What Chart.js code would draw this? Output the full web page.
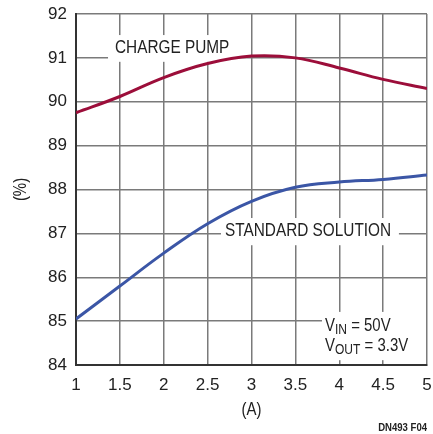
<!DOCTYPE html>
<html>
<head>
<meta charset="utf-8">
<script src="https://cdn.jsdelivr.net/npm/chart.js@4.4.0/dist/chart.umd.min.js"></script>
<style>
  html, body { margin: 0; padding: 0; background: #fff; }
  #wrap { width: 433px; height: 434px; }
</style>
</head>
<body>
<div id="wrap"><canvas id="chart"></canvas></div>
<script>
// load current (A)
const current = [1, 1.5, 2, 2.5, 3, 3.5, 4, 4.5, 5];
// efficiency (%)
const chargePump = [89.75, 90.12, 90.55, 90.87, 91.04, 91.0, 90.77, 90.51, 90.3];
const standard = [85.05, 85.8, 86.55, 87.22, 87.73, 88.05, 88.17, 88.23, 88.33];
const yTicks = [84, 85, 86, 87, 88, 89, 90, 91, 92];
const xTicks = [1, 1.5, 2, 2.5, 3, 3.5, 4, 4.5, 5];

const FONT = "'Liberation Sans', Arial, sans-serif";
const TXT = '#222';
const SQUEEZE = 0.83; // reference uses a condensed face

function pts(ys) {
    return current.map((x, i) => ({ x: x, y: ys[i] }));
}

// draw condensed text, returns drawn width
function condText(ctx, text, x, y, size, weight, align) {
    ctx.save();
    ctx.font = (weight || '') + ' ' + size + 'px ' + FONT;
    ctx.textBaseline = 'middle';
    ctx.textAlign = align || 'left';
    ctx.translate(x, y);
    ctx.scale(SQUEEZE, 1);
    ctx.fillText(text, 0, 0);
    const w = ctx.measureText(text).width * SQUEEZE;
    ctx.restore();
    return w;
}

// labels sitting on grid lines, with white boxes behind them
const labelsPlugin = {
    id: 'labels',
    beforeDatasetsDraw(chart) {
        const ctx = chart.ctx;
        const xs = chart.scales.x, ys = chart.scales.y;
        const box = (x1, x2, y1, y2) => {
            const l = xs.getPixelForValue(x1), r = Math.min(xs.getPixelForValue(x2), chart.chartArea.right - 1);
            const t = ys.getPixelForValue(y1), b = ys.getPixelForValue(y2);
            ctx.fillRect(l, t, r - l, b - t);
        };
        ctx.save();
        ctx.fillStyle = '#fff';
        box(1.365, 2.835, 91.52, 90.91);
        box(2.652, 4.68, 87.35, 86.73);
        box(3.803, 5, 85.21, 84.11);
        ctx.fillStyle = TXT;

        condText(ctx, 'CHARGE PUMP', xs.getPixelForValue(1.444), ys.getPixelForValue(91.23), 18.5);
        condText(ctx, 'STANDARD SOLUTION', xs.getPixelForValue(2.698), ys.getPixelForValue(87.05), 18.5);

        const x0 = xs.getPixelForValue(3.838);
        const lines = [['IN', ' = 50V', 84.88], ['OUT', ' = 3.3V', 84.44]];
        lines.forEach(l => {
            const y0 = ys.getPixelForValue(l[2]);
            let x = x0;
            x += condText(ctx, 'V', x, y0, 18);
            x += condText(ctx, l[0], x, y0 + 4, 14.5);
            condText(ctx, l[1], x, y0, 18);
        });
        ctx.restore();
    },
    afterDraw(chart) {
        const ctx = chart.ctx;
        const a = chart.chartArea;
        ctx.save();
        ctx.fillStyle = TXT;
        condText(ctx, '(A)', (a.left + a.right) / 2, 410, 18, '', 'center');
        ctx.translate(21, (a.top + a.bottom) / 2);
        ctx.rotate(-Math.PI / 2);
        condText(ctx, '(%)', 0, 0, 18, '', 'center');
        ctx.restore();

        ctx.save();
        ctx.fillStyle = TXT;
        condText(ctx, 'DN493 F04', 427, 428, 11.5, 'bold', 'right');
        ctx.restore();
    }
};

new Chart(document.getElementById('chart'), {
    type: 'line',
    data: {
        datasets: [
            {
                label: 'CHARGE PUMP',
                data: pts(chargePump),
                borderColor: '#9c0e3a',
                borderWidth: 3,
                pointRadius: 0,
                tension: 0.4
            },
            {
                label: 'STANDARD SOLUTION',
                data: pts(standard),
                borderColor: '#3b56a6',
                borderWidth: 3,
                pointRadius: 0,
                tension: 0.4
            }
        ]
    },
    options: {
        responsive: true,
        maintainAspectRatio: false,
        animation: false,
        layout: { padding: { top: 14, right: 6, bottom: 0, left: 0 } },
        plugins: { legend: { display: false }, tooltip: { enabled: false } },
        scales: {
            x: {
                type: 'linear',
                min: 1, max: 5,
                afterBuildTicks: s => { s.ticks = xTicks.map(v => ({ value: v })); },
                afterFit: s => { s.height = 69; s.paddingLeft = 0; s.paddingRight = 0; },
                grid: { color: '#7a7a7a', lineWidth: 1.5, drawTicks: false },
                border: { color: '#333', width: 2 },
                ticks: {
                    color: TXT, padding: 10,
                    font: { family: FONT, size: 17 },
                    callback: v => String(v)
                }
            },
            y: {
                min: 84, max: 92,
                afterBuildTicks: s => { s.ticks = yTicks.map(v => ({ value: v })); },
                afterFit: s => { s.width = 76; s.paddingTop = 0; s.paddingBottom = 0; },
                grid: { color: '#7a7a7a', lineWidth: 1.5, drawTicks: false },
                border: { color: '#333', width: 2 },
                ticks: {
                    color: TXT, padding: 9,
                    font: { family: FONT, size: 17 },
                    callback: v => String(v)
                }
            }
        }
    },
    plugins: [labelsPlugin]
});
</script>
</body>
</html>
